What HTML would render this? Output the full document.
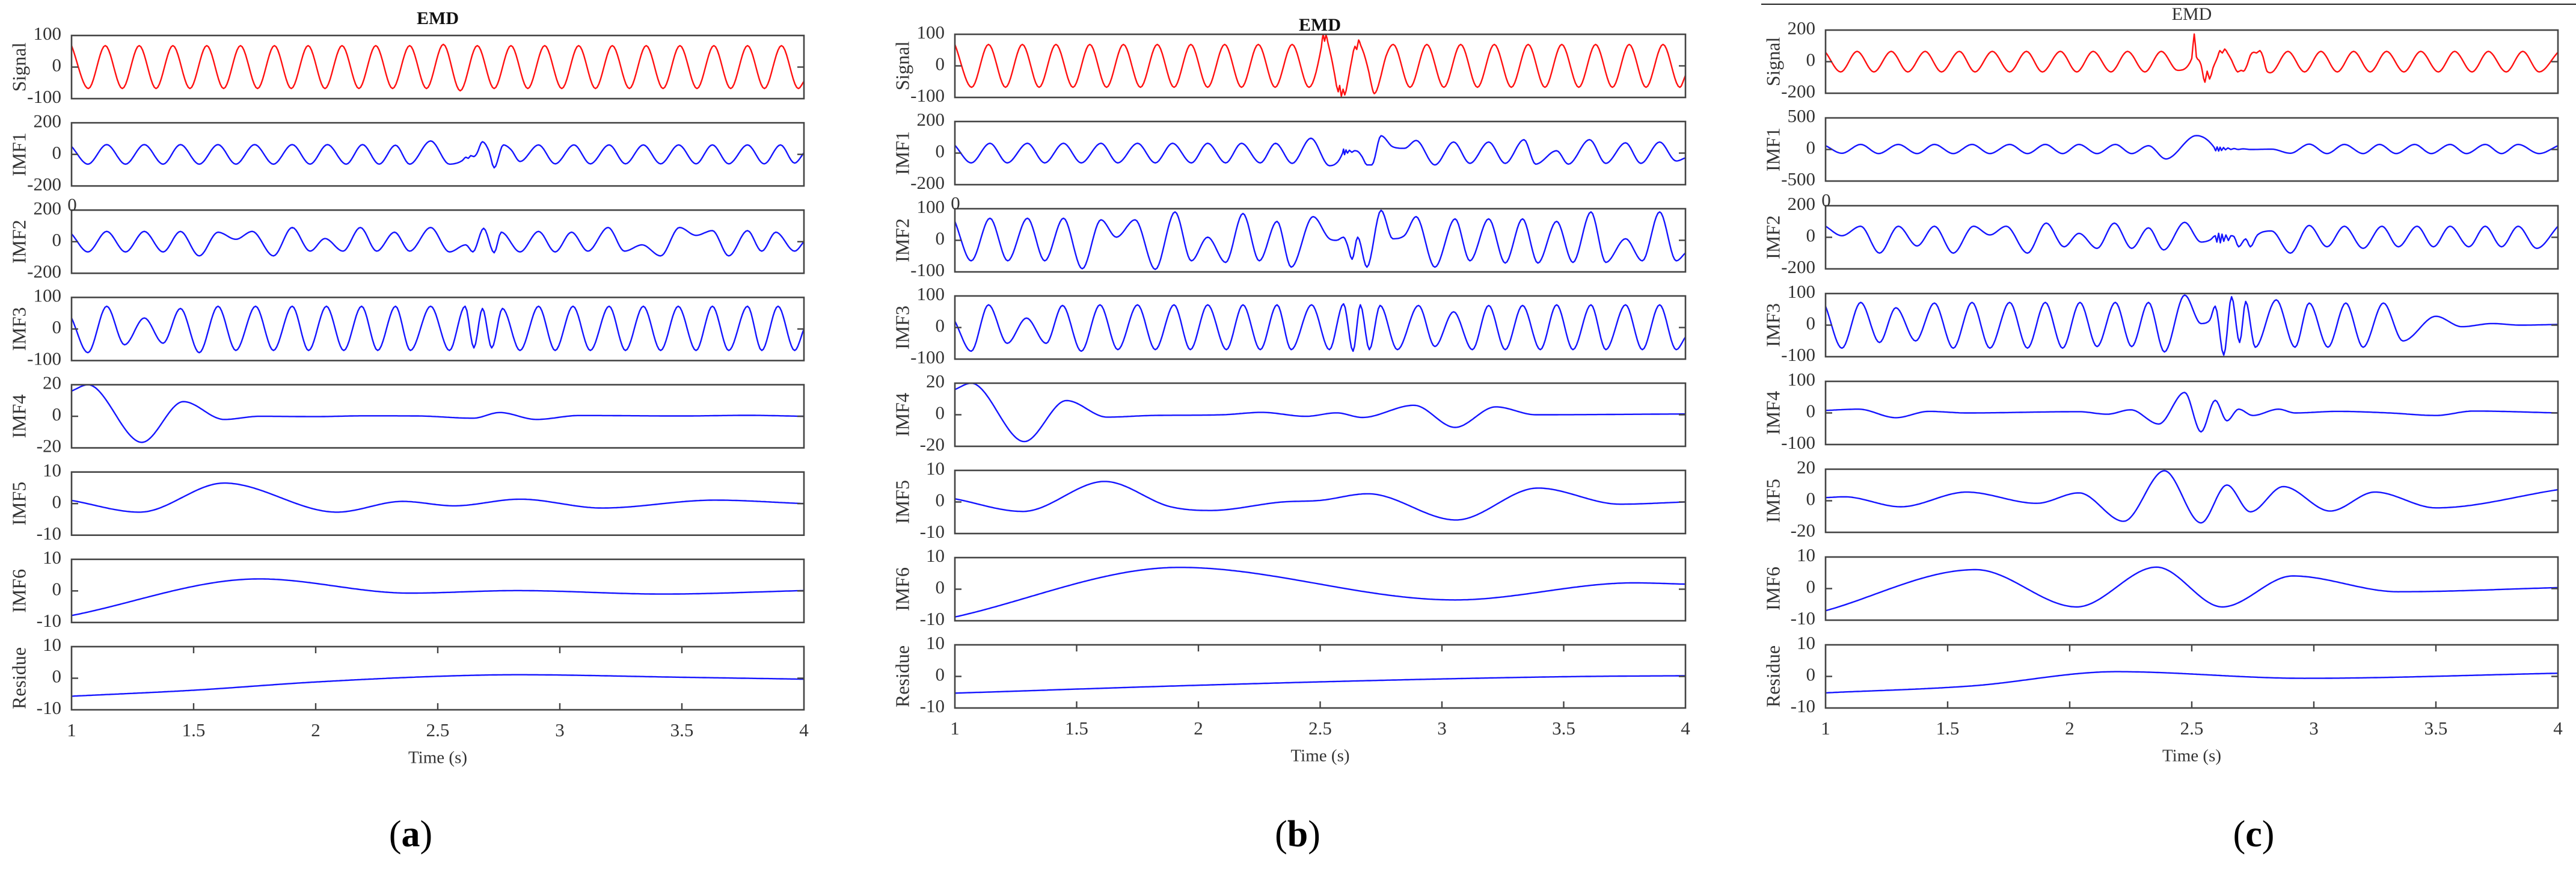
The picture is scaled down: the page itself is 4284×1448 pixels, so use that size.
<!DOCTYPE html>
<html><head><meta charset="utf-8"><title>EMD decomposition</title>
<style>
html,body{margin:0;padding:0;background:#fff;}
svg{display:block;font-family:"Liberation Serif","DejaVu Serif",serif;}
</style></head>
<body>
<svg id="fig" width="4284" height="1448" viewBox="0 0 4284 1448" xmlns="http://www.w3.org/2000/svg"></svg>
<script>
// ---------- DATA (time in s, amplitude) ----------
const rowNames = ["Signal","IMF1","IMF2","IMF3","IMF4","IMF5","IMF6","Residue"];
const xTicks = [1,1.5,2,2.5,3,3.5,4];
const xTickLabels = ["1","1.5","2","2.5","3","3.5","4"];
const rangesA = [100,200,200,100,20,10,10,10];
const rangesB = [100,200,100,100,20,10,10,10];
const rangesC = [200,500,200,100,100,20,10,10];

const sigTimes = [1.000,1.069,1.138,1.208,1.277,1.346,1.415,1.485,1.554,1.623,1.692,1.762,1.831,1.900,1.969,2.038,2.108,2.177,2.246,2.315,2.385,2.454,2.523,2.592,2.662,2.731,2.800,2.869,2.938,3.008,3.077,3.146,3.215,3.285,3.354,3.423,3.492,3.562,3.631,3.700,3.769,3.838,3.908,3.977,4.000];
const sigAVals = [68,-68,68,-68,68,-68,68,-68,68,-68,68,-68,68,-68,68,-68,68,-68,68,-68,68,-68,72,-75,68,-68,68,-68,68,-68,68,-68,68,-68,68,-68,68,-68,68,-68,68,-68,68,-68,-45];

const imf1A = [[1.000,50],[1.067,-62],[1.144,62],[1.221,-62],[1.298,62],[1.375,-62],[1.446,62],[1.523,-62],[1.600,62],[1.673,-62],[1.750,62],[1.827,-62],[1.904,62],[1.977,-62],[2.048,62],[2.125,-62],[2.192,62],[2.260,-62],[2.327,58],[2.385,-62],[2.471,85],[2.548,-62],[2.600,-40],[2.615,-18],[2.625,-25],[2.635,-8],[2.648,-14],[2.660,5],[2.683,80],[2.710,20],[2.731,-85],[2.769,60],[2.800,30],[2.837,-45],[2.913,60],[2.981,-60],[3.058,60],[3.125,-60],[3.202,60],[3.269,-60],[3.342,60],[3.413,-60],[3.487,60],[3.558,-60],[3.625,60],[3.692,-60],[3.769,60],[3.837,-60],[3.904,60],[3.962,-55],[4.0,10]];
const imf2A = [[1.000,50],[1.067,-65],[1.144,65],[1.221,-65],[1.298,65],[1.375,-65],[1.446,65],[1.523,-90],[1.600,60],[1.673,15],[1.740,65],[1.827,-90],[1.904,90],[1.977,-60],[2.038,20],[2.112,-60],[2.183,90],[2.250,-60],[2.323,60],[2.385,-60],[2.471,90],[2.548,-65],[2.615,-20],[2.644,-65],[2.688,85],[2.731,-70],[2.760,60],[2.837,-65],[2.913,65],[2.981,-65],[3.048,60],[3.115,-60],[3.198,90],[3.265,-60],[3.337,-20],[3.413,-90],[3.490,90],[3.558,40],[3.625,70],[3.692,-90],[3.769,70],[3.827,-60],[3.885,60],[3.962,-60],[4.0,0]];
const imf3A = [[1.000,35],[1.067,-75],[1.144,72],[1.217,-50],[1.298,35],[1.375,-45],[1.446,65],[1.523,-75],[1.600,72],[1.673,-68],[1.754,72],[1.827,-68],[1.904,72],[1.971,-68],[2.044,72],[2.115,-68],[2.188,72],[2.254,-68],[2.327,72],[2.388,-68],[2.471,72],[2.548,-68],[2.612,72],[2.648,-60],[2.683,65],[2.721,-60],[2.765,65],[2.837,-68],[2.913,72],[2.981,-68],[3.054,72],[3.125,-68],[3.202,72],[3.269,-68],[3.342,72],[3.413,-68],[3.485,72],[3.558,-68],[3.625,72],[3.692,-68],[3.769,72],[3.827,-68],[3.894,72],[3.962,-68],[4.0,0]];
const imf4A = [[1.0,16],[1.067,20],[1.288,-16.5],[1.458,9.3],[1.625,-2],[1.77,0],[2.0,-0.2],[2.2,0.3],[2.42,0.2],[2.645,-1.2],[2.754,2.4],[2.904,-2],[3.08,0.5],[3.5,0.2],[3.77,0.6],[4.0,0]];
const imf5A = [[1.0,1],[1.279,-2.7],[1.625,6.5],[2.087,-2.7],[2.356,0.7],[2.567,-0.7],[2.837,1.4],[3.173,-1.4],[3.635,1.1],[4.0,0]];
const imf6A = [[1.0,-7.8],[1.769,3.8],[2.385,-0.7],[2.827,0.1],[3.423,-1],[4.0,0.1]];
const resA = [[1.0,-5.7],[1.5,-3.8],[2.0,-1.2],[2.5,0.6],[2.827,1.1],[3.5,0.3],[4.0,-0.3]];

const sigB = [[1.000,68],[1.069,-68],[1.138,68],[1.208,-68],[1.277,68],[1.346,-68],[1.415,68],[1.485,-68],[1.554,68],[1.623,-68],[1.692,68],[1.762,-68],[1.831,68],[1.900,-68],[1.969,68],[2.038,-68],[2.108,68],[2.177,-68],[2.246,68],[2.315,-68],[2.385,68],[2.454,-68],[2.505,60],[2.512,100],[2.518,78],[2.524,98],[2.532,72],[2.545,30],[2.560,-30],[2.574,-82],[2.580,-62],[2.587,-96],[2.594,-74],[2.601,-92],[2.612,-55],[2.630,20],[2.643,62],[2.650,52],[2.658,82],[2.666,66],[2.680,38],[2.700,-20],[2.714,-72],[2.722,-88],[2.733,-76],[2.750,-30],[2.770,30],[2.800,68],[2.869,-68],[2.938,68],[3.008,-68],[3.077,68],[3.146,-68],[3.215,68],[3.285,-68],[3.354,68],[3.423,-68],[3.492,68],[3.562,-68],[3.631,68],[3.700,-68],[3.769,68],[3.838,-68],[3.908,68],[3.977,-68],[4.0,-30]];
const imf1B = [[1.000,50],[1.067,-62],[1.144,62],[1.215,-62],[1.298,62],[1.369,-62],[1.446,62],[1.519,-62],[1.600,62],[1.669,-62],[1.750,62],[1.823,-62],[1.894,62],[1.971,-62],[2.038,62],[2.112,-62],[2.177,62],[2.254,-62],[2.317,62],[2.385,-65],[2.462,94],[2.538,-80],[2.592,0],[2.596,25],[2.600,-10],[2.606,20],[2.612,0],[2.620,18],[2.630,5],[2.640,15],[2.655,10],[2.673,-25],[2.692,-75],[2.712,-75],[2.750,110],[2.798,40],[2.846,30],[2.894,80],[2.971,-75],[3.048,70],[3.115,-65],[3.192,70],[3.260,-65],[3.337,85],[3.385,-70],[3.471,15],[3.519,-70],[3.606,85],[3.673,-65],[3.754,65],[3.817,-65],[3.894,70],[3.962,-50],[4.0,-30]];
const imf2B = [[1.000,60],[1.067,-65],[1.144,70],[1.217,-65],[1.298,70],[1.369,-65],[1.446,70],[1.523,-90],[1.600,65],[1.663,10],[1.740,65],[1.823,-92],[1.904,90],[1.971,-65],[2.038,10],[2.112,-70],[2.183,85],[2.250,-65],[2.323,60],[2.381,-85],[2.471,75],[2.538,5],[2.567,0],[2.596,10],[2.612,-15],[2.631,-60],[2.654,10],[2.692,-85],[2.750,95],[2.798,5],[2.846,15],[2.894,75],[2.971,-85],[3.054,68],[3.115,-65],[3.192,68],[3.260,-72],[3.331,68],[3.394,-72],[3.471,60],[3.538,-70],[3.612,90],[3.673,-70],[3.754,5],[3.823,-65],[3.894,90],[3.962,-65],[4.0,-40]];
const imf3B = [[1.000,20],[1.067,-75],[1.138,72],[1.215,-50],[1.294,30],[1.375,-50],[1.442,70],[1.519,-75],[1.596,72],[1.669,-70],[1.750,72],[1.823,-70],[1.900,72],[1.967,-70],[2.038,72],[2.115,-70],[2.183,72],[2.254,-70],[2.323,72],[2.381,-70],[2.465,72],[2.538,-70],[2.596,75],[2.635,-75],[2.665,72],[2.702,-70],[2.746,70],[2.817,-70],[2.904,70],[2.971,-60],[3.048,50],[3.125,-70],[3.192,70],[3.260,-70],[3.331,70],[3.404,-70],[3.471,72],[3.538,-70],[3.612,72],[3.673,-70],[3.754,72],[3.823,-70],[3.894,72],[3.962,-70],[4.0,-30]];
const imf4B = [[1.0,16],[1.067,20],[1.285,-17],[1.458,9],[1.625,-1.5],[1.8,-0.5],[2.1,0],[2.26,1.5],[2.442,-1],[2.567,1.2],[2.673,-1.7],[2.885,6],[3.054,-8],[3.221,5],[3.385,0],[4.0,0.5]];
const imf5B = [[1.0,1],[1.279,-3],[1.615,6.5],[1.885,-1.5],[2.048,-2.7],[2.346,0],[2.5,0.5],[2.696,2.6],[3.058,-5.7],[3.394,4.4],[3.731,-0.7],[4.0,0]];
const imf6B = [[1.0,-8.8],[1.923,6.9],[3.054,-3.4],[3.788,2],[4.0,1.6]];
const resB = [[1.0,-5.3],[2.0,-2.8],[3.0,-0.8],[3.6,0],[4.0,0.2]];

const sigC = [[1.000,60],[1.062,-65],[1.129,65],[1.198,-65],[1.269,65],[1.337,-65],[1.408,65],[1.475,-65],[1.548,65],[1.612,-65],[1.683,65],[1.754,-65],[1.823,65],[1.888,-65],[1.962,65],[2.029,-65],[2.096,65],[2.169,-65],[2.237,65],[2.308,-65],[2.375,65],[2.442,-55],[2.500,20],[2.510,175],[2.519,30],[2.529,10],[2.538,-20],[2.554,-130],[2.563,-60],[2.573,-110],[2.587,-40],[2.606,30],[2.615,70],[2.625,55],[2.635,80],[2.648,50],[2.663,10],[2.677,-40],[2.688,-65],[2.702,-55],[2.712,-60],[2.727,-20],[2.740,40],[2.754,60],[2.765,55],[2.779,70],[2.792,30],[2.808,-60],[2.823,-70],[2.894,65],[2.962,-65],[3.029,65],[3.096,-65],[3.163,65],[3.231,-65],[3.298,65],[3.369,-65],[3.438,65],[3.510,-65],[3.577,65],[3.648,-65],[3.715,65],[3.788,-65],[3.856,65],[3.923,-65],[4.0,60]];
const imf1C = [[1.000,60],[1.067,-60],[1.144,80],[1.217,-65],[1.298,80],[1.375,-65],[1.446,80],[1.523,-65],[1.600,80],[1.673,-65],[1.754,80],[1.827,-65],[1.900,80],[1.971,-65],[2.038,80],[2.112,-65],[2.187,80],[2.254,-65],[2.323,60],[2.394,-150],[2.519,220],[2.592,30],[2.598,-20],[2.604,40],[2.610,-25],[2.616,35],[2.622,-15],[2.630,30],[2.638,-5],[2.648,25],[2.660,0],[2.673,15],[2.690,0],[2.710,10],[2.740,0],[2.827,5],[2.904,-60],[2.981,85],[3.054,-65],[3.125,80],[3.202,-65],[3.269,80],[3.337,-65],[3.413,80],[3.481,-65],[3.558,80],[3.625,-65],[3.702,80],[3.769,-65],[3.837,80],[3.923,-65],[4.0,60]];
const imf2C = [[1.000,70],[1.067,10],[1.144,70],[1.221,-100],[1.298,70],[1.375,-55],[1.446,70],[1.523,-100],[1.606,70],[1.673,15],[1.740,70],[1.827,-100],[1.904,90],[1.977,-60],[2.038,25],[2.112,-70],[2.183,90],[2.254,-70],[2.323,60],[2.385,-80],[2.471,95],[2.538,-30],[2.577,-15],[2.596,10],[2.603,-30],[2.610,25],[2.617,-35],[2.624,20],[2.631,-25],[2.640,15],[2.650,-20],[2.660,10],[2.673,5],[2.692,-60],[2.721,-10],[2.740,-60],[2.769,15],[2.827,40],[2.904,-100],[2.981,75],[3.054,-60],[3.125,70],[3.202,-70],[3.279,70],[3.346,-60],[3.423,70],[3.490,-60],[3.558,70],[3.635,-60],[3.702,70],[3.769,-60],[3.837,70],[3.913,-70],[4.0,70]];
const imf3C = [[1.000,60],[1.067,-73],[1.144,72],[1.221,-55],[1.288,55],[1.369,-50],[1.446,70],[1.523,-73],[1.600,72],[1.673,-73],[1.754,72],[1.827,-73],[1.900,72],[1.971,-73],[2.042,72],[2.112,-68],[2.187,72],[2.254,-68],[2.323,72],[2.388,-85],[2.471,95],[2.538,5],[2.573,15],[2.596,60],[2.631,-95],[2.663,90],[2.696,-55],[2.721,75],[2.760,-70],[2.846,80],[2.923,-70],[2.981,70],[3.058,-70],[3.131,70],[3.202,-70],[3.285,70],[3.365,-50],[3.500,28],[3.606,-5],[3.731,5],[3.846,0],[4.0,2]];
const imf4C = [[1.0,8],[1.135,12],[1.288,-15],[1.423,5],[1.577,0],[2.038,4],[2.154,-4],[2.250,10],[2.365,-35],[2.471,65],[2.538,-60],[2.596,40],[2.644,-25],[2.692,12],[2.750,-8],[2.856,12],[2.923,0],[3.096,5],[3.308,0],[3.500,-8],[3.654,6],[4.0,0]];
const imf5C = [[1.0,2],[1.077,2.5],[1.308,-3.8],[1.577,5.5],[1.865,-1.6],[2.038,5],[2.221,-13],[2.388,19],[2.538,-14],[2.644,10],[2.740,-7],[2.875,9],[3.067,-6.5],[3.250,5.5],[3.500,-4.5],[4.0,7]];
const imf6C = [[1.0,-7],[1.615,6],[2.029,-5.8],[2.356,6.8],[2.625,-5.8],[2.913,4],[3.346,-1],[4.0,0.3]];
const resC = [[1.0,-5.2],[1.6,-3],[2.192,1.5],[2.962,-0.6],[4.0,1.0]];

const sigA = sigTimes.map((t,i)=>[t,sigAVals[i]]);
const seriesA = [sigA,imf1A,imf2A,imf3A,imf4A,imf5A,imf6A,resA];
const seriesB = [sigB,imf1B,imf2B,imf3B,imf4B,imf5B,imf6B,resB];
const seriesC = [sigC,imf1C,imf2C,imf3C,imf4C,imf5C,imf6C,resC];

// ---------- LAYOUT ----------
const layout = [
  {id:"a", left:119, width:1218, top:59, resTop:1075, h:105, labelX:683, titleX:728, titleY:33, bold:true, titleFill:"#111", ranges:rangesA, series:seriesA},
  {id:"b", left:1588, width:1215, top:57, resTop:1072, h:105, labelX:2158, titleX:2195, titleY:44, bold:true, titleFill:"#111", ranges:rangesB, series:seriesB},
  {id:"c", left:3036, width:1218, top:50, resTop:1072, h:105, labelX:3748, titleX:3645, titleY:26, bold:false, titleFill:"#333", ranges:rangesC, series:seriesC}
];
const NS = "http://www.w3.org/2000/svg";
const svg = document.getElementById("fig");
function mk(tag, attrs, parent){
  const e = document.createElementNS(NS, tag);
  for (const k in attrs) e.setAttribute(k, attrs[k]);
  (parent||svg).appendChild(e);
  return e;
}
function monoPath(pts, sx, sy){
  const n = pts.length, xs = pts.map(p=>p[0]), ys = pts.map(p=>p[1]);
  const d = [], m = new Array(n);
  for (let i=0;i<n-1;i++) d.push((ys[i+1]-ys[i])/(xs[i+1]-xs[i]));
  m[0]=d[0]; m[n-1]=d[n-2];
  for (let i=1;i<n-1;i++){
    if (d[i-1]*d[i]<=0) m[i]=0;
    else { m[i]=(d[i-1]+d[i])/2; const a=m[i]/d[i-1], b=m[i]/d[i]; const s=a*a+b*b; if (s>9){const t=3/Math.sqrt(s); m[i]=t*a*d[i-1];} }
  }
  let out = "M"+sx(xs[0]).toFixed(1)+","+sy(ys[0]).toFixed(1);
  for (let i=0;i<n-1;i++){
    const h = xs[i+1]-xs[i];
    const steps = Math.max(2, Math.ceil((sx(xs[i+1])-sx(xs[i]))/3));
    for (let k=1;k<=steps;k++){
      const t=k/steps, t2=t*t, t3=t2*t;
      const y = (2*t3-3*t2+1)*ys[i] + (t3-2*t2+t)*h*m[i] + (-2*t3+3*t2)*ys[i+1] + (t3-t2)*h*m[i+1];
      out += "L"+sx(xs[i]+t*h).toFixed(1)+","+sy(y).toFixed(1);
    }
  }
  return out;
}
const defs = mk("defs",{});
layout.forEach(P=>{
  const g = mk("g",{});
  
  
  const pitch = (P.resTop-P.top)/7;
  const sx = t => P.left + (t-1)/3*P.width;
  const title = mk("text",{x:P.titleX,y:P.titleY,"text-anchor":"middle","dominant-baseline":"middle","font-size":30,"font-weight":P.bold?"bold":"normal",fill:P.titleFill},g);
  title.textContent = "EMD";
  
  
  rowNames.forEach((nm,i)=>{
    const top = P.top + i*pitch, bot = top + P.h, mid = (top+bot)/2, r = P.ranges[i];
    const sy = v => mid - v/r*(P.h/2);
    const row = mk("g",{},g);
    
    
    const cid = "clip-"+P.id+i;
    const cp = mk("clipPath",{id:cid},defs);
    mk("rect",{x:P.left,y:top,width:P.width,height:P.h},cp);
    const line = mk("path",{d:monoPath(P.series[i],sx,sy),fill:"none",stroke:i===0?"#ff1010":"#1414ff","stroke-width":2.4,"stroke-linejoin":"round","clip-path":"url(#"+cid+")"},row);
    
    
    const box = mk("rect",{x:P.left,y:top,width:P.width,height:P.h,fill:"none",stroke:"#444","stroke-width":2.6},row);
    
    
    const tk1 = mk("line",{x1:P.left,x2:P.left+11,y1:sy(0),y2:sy(0),stroke:"#444","stroke-width":2.4},row);
    
    
    const tk2 = mk("line",{x1:P.left+P.width-11,x2:P.left+P.width,y1:sy(0),y2:sy(0),stroke:"#444","stroke-width":2.4},row);
    
    
    [[r,String(r)],[0,"0"],[-r,"-"+r]].forEach(tv=>{
      const tl = mk("text",{x:P.left-17,y:sy(tv[0]),"text-anchor":"end","dominant-baseline":"middle","font-size":31,fill:"#333"},row);
      tl.textContent = tv[1];
      
      
    });
    const yl = mk("text",{x:0,y:0,transform:"translate("+(P.left-84)+","+mid+") rotate(-90)","text-anchor":"middle","dominant-baseline":"middle","font-size":32,fill:"#333"},row);
    yl.textContent = nm;
    
    
    if (i===2){
      const z = mk("text",{x:P.left+1,y:top-6,"text-anchor":"middle","dominant-baseline":"middle","font-size":31,fill:"#333"},row);
      z.textContent = "0";
      
      
    }
    if (i===7){
      xTicks.forEach((t,k)=>{
        if (k>0 && k<xTicks.length-1){
          const a = mk("line",{x1:sx(t),x2:sx(t),y1:top,y2:top+11,stroke:"#444","stroke-width":2.4},row);
          
          
          const b = mk("line",{x1:sx(t),x2:sx(t),y1:bot-11,y2:bot,stroke:"#444","stroke-width":2.4},row);
          
          
        }
        const xl = mk("text",{x:sx(t),y:bot+37,"text-anchor":"middle","dominant-baseline":"middle","font-size":31,fill:"#333"},row);
        xl.textContent = xTickLabels[k];
        
        
      });
      const xt = mk("text",{x:P.left+P.width/2,y:bot+82,"text-anchor":"middle","dominant-baseline":"middle","font-size":29,fill:"#333"},row);
      xt.textContent = "Time (s)";
      
      
    }
  });
  const lab = mk("text",{x:P.labelX,y:1393,"text-anchor":"middle","dominant-baseline":"middle","font-size":62,fill:"#000"},g);
  lab.innerHTML = '(<tspan font-weight="bold">'+P.id+'</tspan>)';
  
  
});
const rule = mk("line",{x1:2929,x2:4284,y1:7,y2:7,stroke:"#222","stroke-width":2});


</script>
</body></html>
